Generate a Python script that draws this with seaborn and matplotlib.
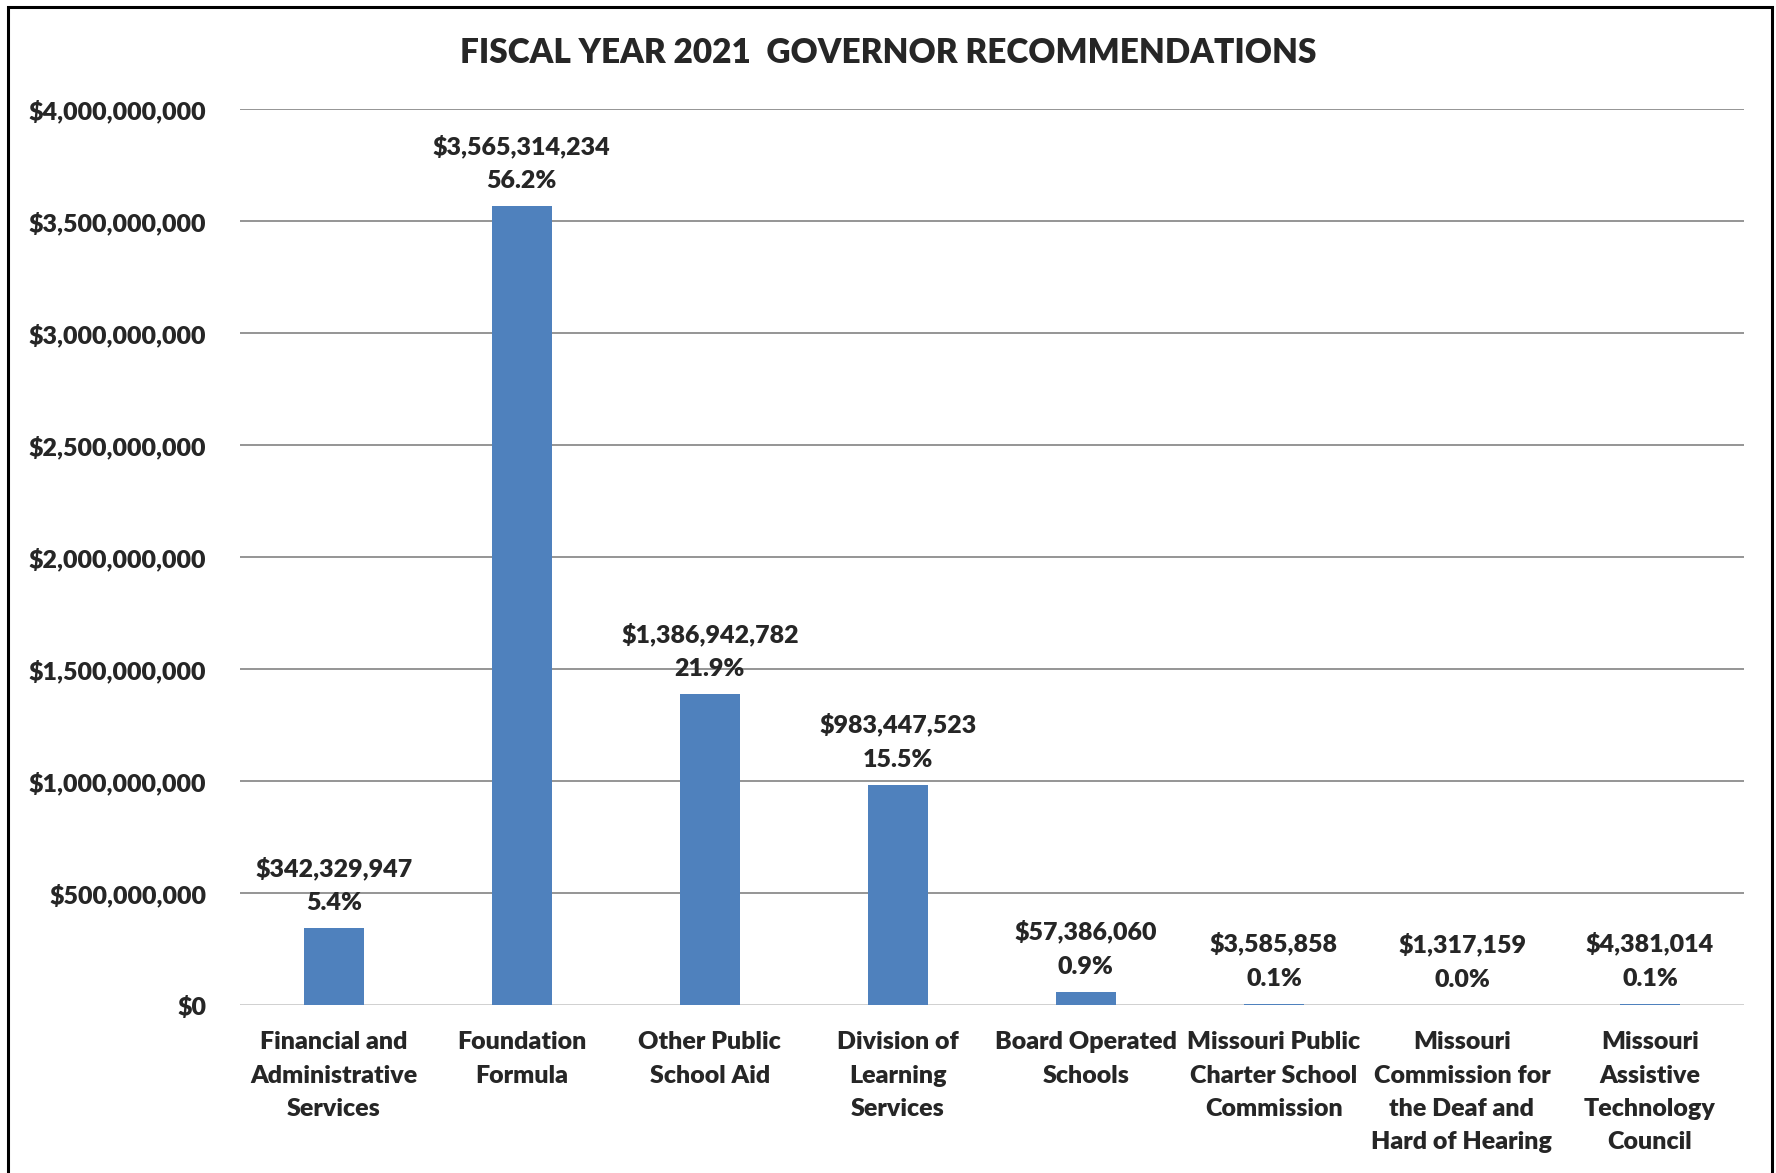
import matplotlib
matplotlib.use("Agg")
import matplotlib.pyplot as plt
import matplotlib.ticker as mticker
from matplotlib.patches import Rectangle
import seaborn as sns
import pandas as pd

# ---------------- data ----------------
categories = [
    "Financial and\nAdministrative\nServices",
    "Foundation\nFormula",
    "Other Public\nSchool Aid",
    "Division of\nLearning\nServices",
    "Board Operated\nSchools",
    "Missouri Public\nCharter School\nCommission",
    "Missouri\nCommission for\nthe Deaf and\nHard of Hearing",
    "Missouri\nAssistive\nTechnology\nCouncil",
]
amounts = [342329947, 3565314234, 1386942782, 983447523,
           57386060, 3585858, 1317159, 4381014]
percents = ["5.4%", "56.2%", "21.9%", "15.5%", "0.9%", "0.1%", "0.0%", "0.1%"]

df = pd.DataFrame({"Program": categories, "Amount": amounts})

sns.set_style("white")
plt.rcParams["font.family"] = ["Lato", "DejaVu Sans"]
W = "heavy"
FS = 18

fig = plt.figure(figsize=(17.76, 11.73), dpi=100)
ax = fig.add_axes([0.135, 0.1432, 0.847, 0.7639])

sns.barplot(data=df, x="Program", y="Amount", color="#4F81BD",
            saturation=1, width=0.32, ax=ax, zorder=3,
            edgecolor="none", linewidth=0)

ax.set_xlim(-0.5, 7.5)
ax.set_ylim(0, 4000000000)
ax.yaxis.set_major_locator(mticker.MultipleLocator(500000000))
ax.yaxis.set_major_formatter(mticker.FuncFormatter(lambda v, p: f"${v:,.0f}"))
ax.grid(axis="y", color="#8c8c8c", linewidth=1.3, zorder=0)
ax.grid(axis="x", visible=False)
for s in ax.spines.values():
    s.set_visible(False)
ax.axhline(0, color="#d9d9d9", linewidth=2, zorder=2)

ax.set_xlabel("")
ax.set_ylabel("")
ax.tick_params(axis="both", length=0, labelsize=FS)
ax.tick_params(axis="y", pad=24)
ax.tick_params(axis="x", pad=19)
for lbl in ax.get_xticklabels():
    lbl.set_linespacing(1.62)
    lbl.set_fontweight(W)
for lbl in ax.get_yticklabels():
    lbl.set_fontweight(W)

# value + share labels above each bar
for i, (amt, pct) in enumerate(zip(amounts, percents)):
    ax.annotate(f"${amt:,}\n{pct}", xy=(i, amt), xytext=(0, 10),
                textcoords="offset points", ha="center", va="bottom",
                fontsize=FS, fontweight=W, linespacing=1.7)

fig.text(0.5, 0.955, "FISCAL YEAR 2021  GOVERNOR RECOMMENDATIONS",
         ha="center", va="center", fontsize=24, fontweight=W)

# chart frame
fig.patches.append(Rectangle((0.0045, -0.02), 0.9935, 1.014,
                             transform=fig.transFigure, fill=False,
                             edgecolor="black", linewidth=2.2))

fig.savefig("out.png", dpi=100)
